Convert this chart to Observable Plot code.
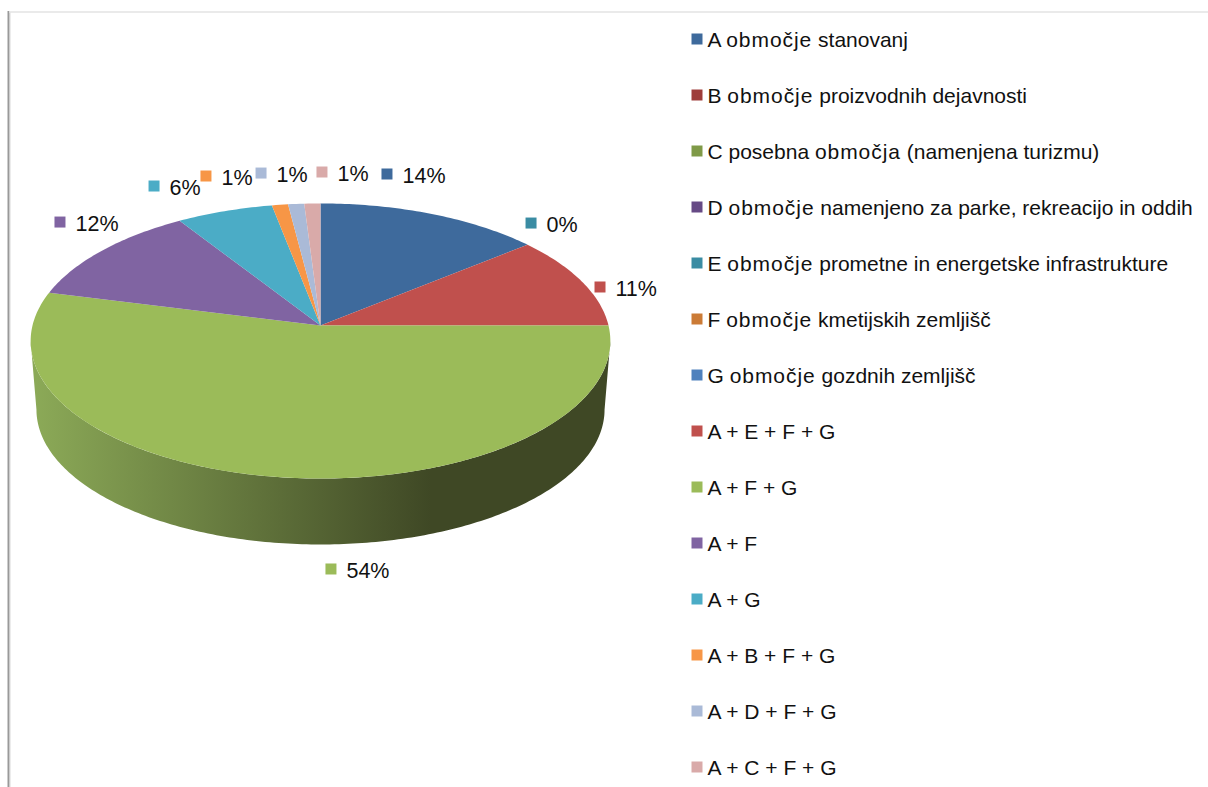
<!DOCTYPE html>
<html lang="sl">
<head>
<meta charset="utf-8">
<title>Namenska raba po območjih</title>
<script src="https://cdn.jsdelivr.net/npm/d3@7"></script>
<script src="https://cdn.jsdelivr.net/npm/@observablehq/plot@0.6"></script>
<style>
  html, body { margin: 0; padding: 0; background: #fff; overflow: hidden; }
  svg { display: block; }
</style>
</head>
<body>
<div id="chart"></div>
<script>
// Land-use categories, in legend and slice order
const categories = [
  "A območje stanovanj",
  "B območje proizvodnih dejavnosti",
  "C posebna območja (namenjena turizmu)",
  "D območje namenjeno za parke, rekreacijo in oddih",
  "E območje prometne in energetske infrastrukture",
  "F območje kmetijskih zemljišč",
  "G območje gozdnih zemljišč",
  "A + E + F + G",
  "A + F + G",
  "A + F",
  "A + G",
  "A + B + F + G",
  "A + D + F + G",
  "A + C + F + G"
];
// Share of each category, percent
const shares = [14, 0, 0, 0, 0, 0, 0, 11, 54, 12, 6, 1, 1, 1];
const colors = [
  "#3e6a9c", "#9e3d3a", "#7f9a48", "#664a85", "#3a8ca3", "#cb7b36", "#4f81bd",
  "#c0504d", "#9bbb59", "#8064a2", "#4bacc6", "#f79646", "#aabad7", "#d9aaa9"
];
// Categories with no data label on the pie
const unlabelled = new Set([1, 2, 3, 5, 6]);
// Data label marker offsets from the rim at each slice's mid-angle
const labelOffsets = new Map([
  [0, [-44.8, -40]], [4, [3.5, -21.7]], [7, [18.5, 5.8]], [8, [51.1, 91.8]],
  [9, [-42, -28.6]], [10, [-70.5, -25.2]], [11, [-74, -28.8]],
  [12, [-35.1, -30.9]], [13, [9.6, -31.5]]
]);

// Perspective tilt of the disc: k is foreshortening towards the viewer
const k = 0.1127, cx = 320, cy = 325, rx = 288, ry = 135.8;
const depth = 69, baseScale = 0.98;

// Project a fraction of the full turn (clockwise from 12 o'clock) onto the top or base disc
function rim(turn, base = false) {
  const a = turn * 2 * Math.PI, u = Math.sin(a), v = -Math.cos(a);
  const s = (base ? baseScale : 1) / (1 - k * v);
  return { x: cx + rx * u * s, y: cy + (base ? depth : 0) + ry * v * s };
}

const total = d3.sum(shares);
let running = 0;
const slices = shares.map((share, i) => {
  const start = running / total;
  running += share;
  return { i, share, category: categories[i], start, end: running / total };
});

// One closed outline per non-empty slice: apex, then the arc
const outlines = slices.filter(s => s.share > 0).flatMap(s => {
  const steps = Math.max(2, Math.ceil(s.share * 4));
  const arc = d3.range(steps + 1).map(j => rim(s.start + (s.end - s.start) * j / steps));
  return [{ x: cx, y: cy }, ...arc].map(p => ({ ...p, category: s.category }));
});

// Visible wall: front rim of the top disc, back along the base disc
const t0 = 0.25 + Math.asin(k) / (2 * Math.PI), t1 = 0.75 - Math.asin(k) / (2 * Math.PI);
const wallTurns = d3.range(201).map(j => t0 + (t1 - t0) * j / 200);
const wall = [...wallTurns.map(t => rim(t)), ...wallTurns.slice().reverse().map(t => rim(t, true))];

// Data labels, marker plus percentage
const labels = slices.filter(s => !unlabelled.has(s.i)).map(s => {
  const p = rim((s.start + s.end) / 2), [dx, dy] = labelOffsets.get(s.i);
  return { category: s.category, x: p.x + dx, y: p.y + dy, text: `${s.share}%` };
});

// Legend rows down the right-hand side
const legend = categories.map((category, i) => ({ category, x: 696.5, y: 38.5 + 56 * i }));

// Horizontal shading of the pie wall, light on the left, dark on the right
const wallShade = (index, { x }) => {
  const defs = d3.create("svg:defs");
  const g = defs.append("linearGradient").attr("id", "wall-shade")
    .attr("gradientUnits", "userSpaceOnUse")
    .attr("x1", x(36)).attr("x2", x(430)).attr("y1", 0).attr("y2", 0);
  g.append("stop").attr("offset", 0).attr("stop-color", "#8ba957");
  g.append("stop").attr("offset", 1).attr("stop-color", "#3f4825");
  return defs.node();
};

// The word "območje" sets a little wider than the rest of a legend entry
const widenWord = (index, scales, values, dimensions, context, next) => {
  const g = next(index, scales, values, dimensions, context);
  d3.select(g).selectAll("text").each(function () {
    const parts = this.textContent.split(/(območj[ea])/);
    if (parts.length < 3) return;
    this.textContent = "";
    for (const part of parts) {
      const span = document.createElementNS("http://www.w3.org/2000/svg", "tspan");
      span.textContent = part;
      if (/^območj/.test(part)) span.setAttribute("letter-spacing", "0.95");
      this.appendChild(span);
    }
  });
  return g;
};

const textColor = "#111";

const chart = Plot.plot({
  width: 1208,
  height: 787,
  margin: 0,
  x: { domain: [0, 1208], range: [0, 1208], axis: null },
  y: { domain: [0, 787], range: [0, 787], axis: null },
  color: { domain: categories, range: colors },
  style: { background: "#fff", fontFamily: "'Liberation Sans', Arial, sans-serif", fontSize: "21px" },
  marks: [
    wallShade,
    Plot.ruleX([8], { y1: 11, y2: 787, stroke: "#999", strokeWidth: 2 }),
    Plot.ruleX([10], { y1: 12, y2: 787, stroke: "#ececec", strokeWidth: 1 }),
    Plot.ruleY([11.5], { x1: 9, x2: 1208, stroke: "#e3e3e3", strokeWidth: 1.5 }),
    Plot.line(wall, { x: "x", y: "y", fill: "url(#wall-shade)", stroke: "none" }),
    Plot.line(outlines, { x: "x", y: "y", z: "category", fill: "category", stroke: "none" }),
    Plot.dot(labels, { x: "x", y: "y", fill: "category", symbol: "square", r: 11 / Math.sqrt(Math.PI) }),
    Plot.text(labels, { x: "x", y: "y", text: "text", textAnchor: "start", dx: 15.5, dy: 2, fill: textColor, fontSize: 21.5 }),
    Plot.dot(legend, { x: "x", y: "y", fill: "category", symbol: "square", r: 11 / Math.sqrt(Math.PI) }),
    Plot.text(legend, { x: "x", y: "y", text: "category", textAnchor: "start", dx: 10.5, dy: 1.5, fill: textColor, fontSize: 21, render: widenWord })
  ]
});

document.getElementById("chart").append(chart);
</script>
</body>
</html>
